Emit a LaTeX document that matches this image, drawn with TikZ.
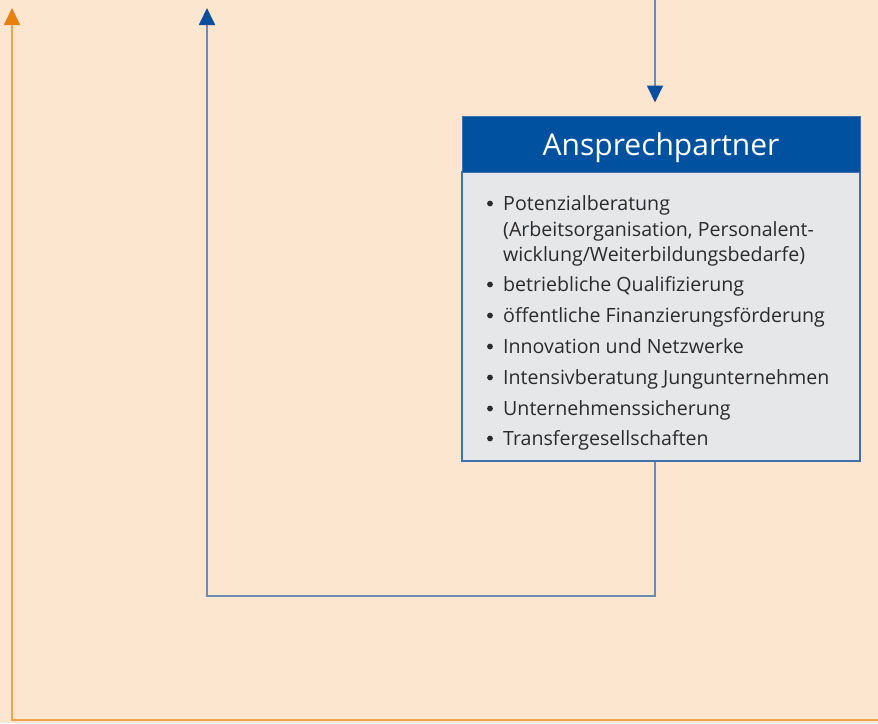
\documentclass[tikz,border=0pt]{standalone}
\usepackage{fontspec}
\setmainfont{Open Sans}
\usetikzlibrary{arrows.meta,calc}
\definecolor{bgc}{HTML}{FDE6D0}
\definecolor{orline}{HTML}{F2A24E}
\definecolor{orhead}{HTML}{E8800F}
\definecolor{blline}{HTML}{6A8DB8}
\definecolor{blhead}{HTML}{0A4F9E}
\definecolor{hdfill}{HTML}{0052A0}
\definecolor{bxfill}{HTML}{E6E7E9}
\definecolor{bxdraw}{HTML}{3F72AD}
\definecolor{txt}{HTML}{2B2B2B}
\tikzset{
  x=1pt, y=-1pt,
  blueconn/.style={draw=blline, line width=1.8pt, -{Triangle[width=16pt,length=17pt,color=blhead]}},
  orangeconn/.style={draw=orline, line width=1.8pt, -{Triangle[width=16pt,length=17pt,color=orhead]}},
  header/.style={fill=hdfill, draw=bxdraw, line width=1pt, minimum width=398pt, minimum height=56pt, inner sep=0pt},
  headtxt/.style={anchor=base, inner sep=0pt, text=white, font=\fontsize{30}{32}\selectfont},
  bodybox/.style={fill=bxfill, draw=bxdraw, line width=1.2pt, minimum width=398pt, minimum height=289pt, inner sep=0pt},
  itemtxt/.style={anchor=base west, inner sep=0pt, text=txt, font=\fontsize{19.6}{24}\selectfont},
}
\begin{document}
\begin{tikzpicture}
\fill[bgc] (0,0) rectangle (878,723);
\useasboundingbox (0,0) rectangle (878,723);
% box
\node[bodybox] (body) at (661,316.5) {};
\node[header] (hd) at (661,144) {};
\node[headtxt] (hdt) at (661,155) {Ansprechpartner};
% text lines
\foreach \n/\y/\t/\b in {
  l1/210/{Potenzialberatung}/1,
  l2/236/{(Arbeitsorganisation, Personalent-}/0,
  l3/261/{wicklung/Weiterbildungsbedarfe)}/0,
  l4/291/{betriebliche Qualifizierung}/1,
  l5/322/{öffentliche Finanzierungsförderung}/1,
  l6/353/{Innovation und Netzwerke}/1,
  l7/384/{Intensivberatung Jungunternehmen}/1,
  l8/415/{Unternehmenssicherung}/1,
  l9/445/{Transfergesellschaften}/1}{
  \node[itemtxt] (\n) at (503,\y) {\t};
  \ifnum\b=1 \fill[txt] (490,\y-6.5) circle (2.9);\fi
}
% connectors
\coordinate (topin) at (655,0);
\draw[blueconn, shorten >=13pt] (topin) -- (topin |- hd.north);
\coordinate (bl) at (207,596);
\coordinate (bt) at (207,8);
\draw[blueconn] (body.south -| topin) |- (bl) -- (bt);
\coordinate (or0) at (878,720);
\coordinate (or1) at (12,720);
\coordinate (or2) at (12,8);
\draw[orangeconn] (or0) -- (or1) -- (or2);
\end{tikzpicture}
\end{document}
